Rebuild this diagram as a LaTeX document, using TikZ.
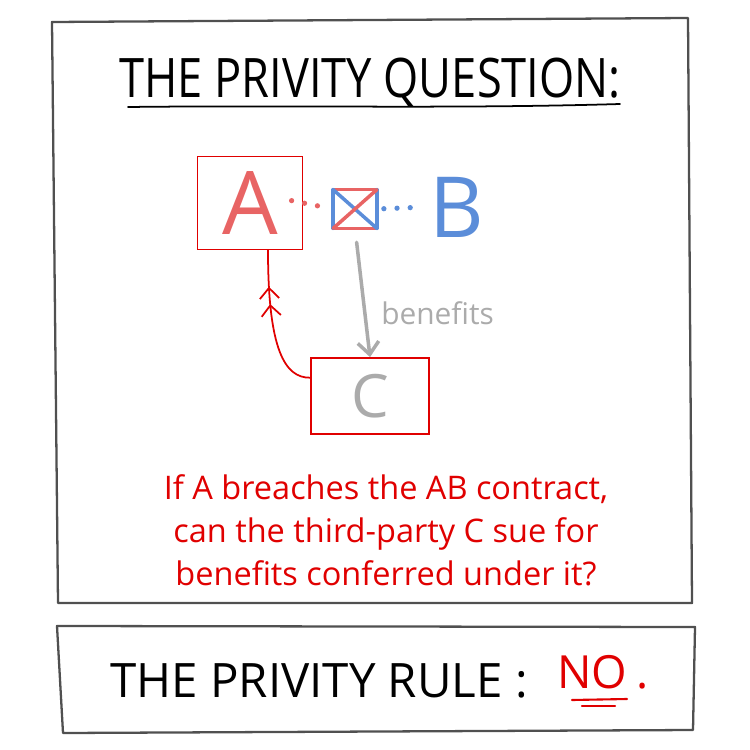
\documentclass[tikz,border=0pt]{standalone}
\usepackage{fontspec}
\setmainfont{Open Sans}
\usetikzlibrary{arrows.meta,decorations.markings}
\definecolor{inkred}{HTML}{E00000}
\definecolor{softred}{HTML}{E86464}
\definecolor{softblue}{HTML}{5B8DD9}
\definecolor{pencil}{HTML}{ABABAB}
\definecolor{framegray}{HTML}{505050}
\tikzset{
  panel/.style={draw=framegray, line width=1.3pt, line join=round},
  partybox/.style={draw=inkred, line width=1pt, inner sep=0pt},
  dotline/.style={line width=3pt, line cap=round, dash pattern=on 0pt off 7.5pt},
  crossedge/.style={line width=2pt, line cap=round},
}
\begin{document}
\begin{tikzpicture}[x=0.02cm, y=-0.02cm, line cap=round]
	\useasboundingbox (0,0) rectangle (750,750);
	% the two panels
	\draw[panel] (52,22) -- (688,18) -- (692,603) -- (58,603) -- cycle;
	\draw[panel] (57,626) -- (695,627) -- (693,730) -- (63,733) -- cycle;
	% heading
	\node[anchor=base, inner sep=0pt, font=\fontsize{31}{36}\selectfont] (title) at (370,97) {\scalebox{0.83}[1]{THE PRIVITY QUESTION:}};
	\draw[line width=1pt] (128,107) .. controls (300,105) and (450,109) .. (620,104);
	% the parties
	\node[partybox, minimum width=2.1cm, minimum height=1.86cm, text=softred, font=\fontsize{50}{50}\selectfont] (a) at (250,203) {A};
	\node[inner sep=0pt, minimum width=0.86cm, minimum height=0.76cm] (ab) at (355,209) {};
	\node[inner sep=2pt, text=softblue, font=\fontsize{48}{48}\selectfont] (b) at (457,207) {B};
	\node[partybox, minimum width=2.36cm, minimum height=1.52cm, text=pencil, font=\fontsize{34}{34}\selectfont] (c) at (370,396) {C};
	% the crossed-out contract
	\draw[crossedge, softred] (ab.north west) -- (ab.north east);
	\draw[crossedge, softred] (ab.south west) -- (ab.south east);
	\draw[crossedge, softblue] (ab.north west) -- (ab.south west);
	\draw[crossedge, softblue] (ab.north east) -- (ab.south east);
	\draw[crossedge, softblue] (ab.north west) -- (ab.south east);
	\draw[crossedge, softred] (ab.north east) -- (ab.south west);
	\draw[dotline, softred, shorten <=-0.24cm, shorten >=4pt] (a.east) -- (ab.west);
	\draw[dotline, softblue, shorten <=4pt, shorten >=4pt] (ab.east) -- (b.west);
	% benefits flow to C
	\draw[pencil, line width=2pt, shorten <=0.28cm, -{Straight Barb[length=7pt, width=12pt]}] (ab.south) -- (c.north)
		node[pos=0.66, right=5pt, font=\fontsize{17}{17}\selectfont] {benefits};
	% C sues A
	\draw[inkred, line width=1pt, decoration={markings,
		mark=at position 0.63 with {\arrow{Straight Barb[length=6pt, width=11pt]}},
		mark=at position 0.75 with {\arrow{Straight Barb[length=6pt, width=11pt]}}}, postaction={decorate}]
		(c.163) .. controls (285,378) and (268,350) .. ([xshift=0.36cm]a.south);
	% the question
	\node[text=inkred, align=center, font=\fontsize{18.5}{24.5}\selectfont] (question) at (386,530)
		{If A breaches the AB contract,\\ can the third-party C sue for\\ benefits conferred under it?};
	% the answer
	\node[anchor=base west, inner sep=0pt, font=\fontsize{27}{32}\selectfont] (rule) at (110,697) {THE PRIVITY RULE :};
	\node[anchor=base west, inner sep=0pt, text=inkred, font=\fontsize{26}{32}\selectfont] (no) at (557,688) {NO\hspace{5pt}.};
	\draw[inkred, line width=1.2pt] ([xshift=0.3cm, yshift=-0.24cm]no.base west) -- ([xshift=1.4cm, yshift=-0.22cm]no.base west);
	\draw[inkred, line width=1.2pt] ([xshift=0.5cm, yshift=-0.36cm]no.base west) -- ([xshift=1.16cm, yshift=-0.36cm]no.base west);
\end{tikzpicture}
\end{document}
